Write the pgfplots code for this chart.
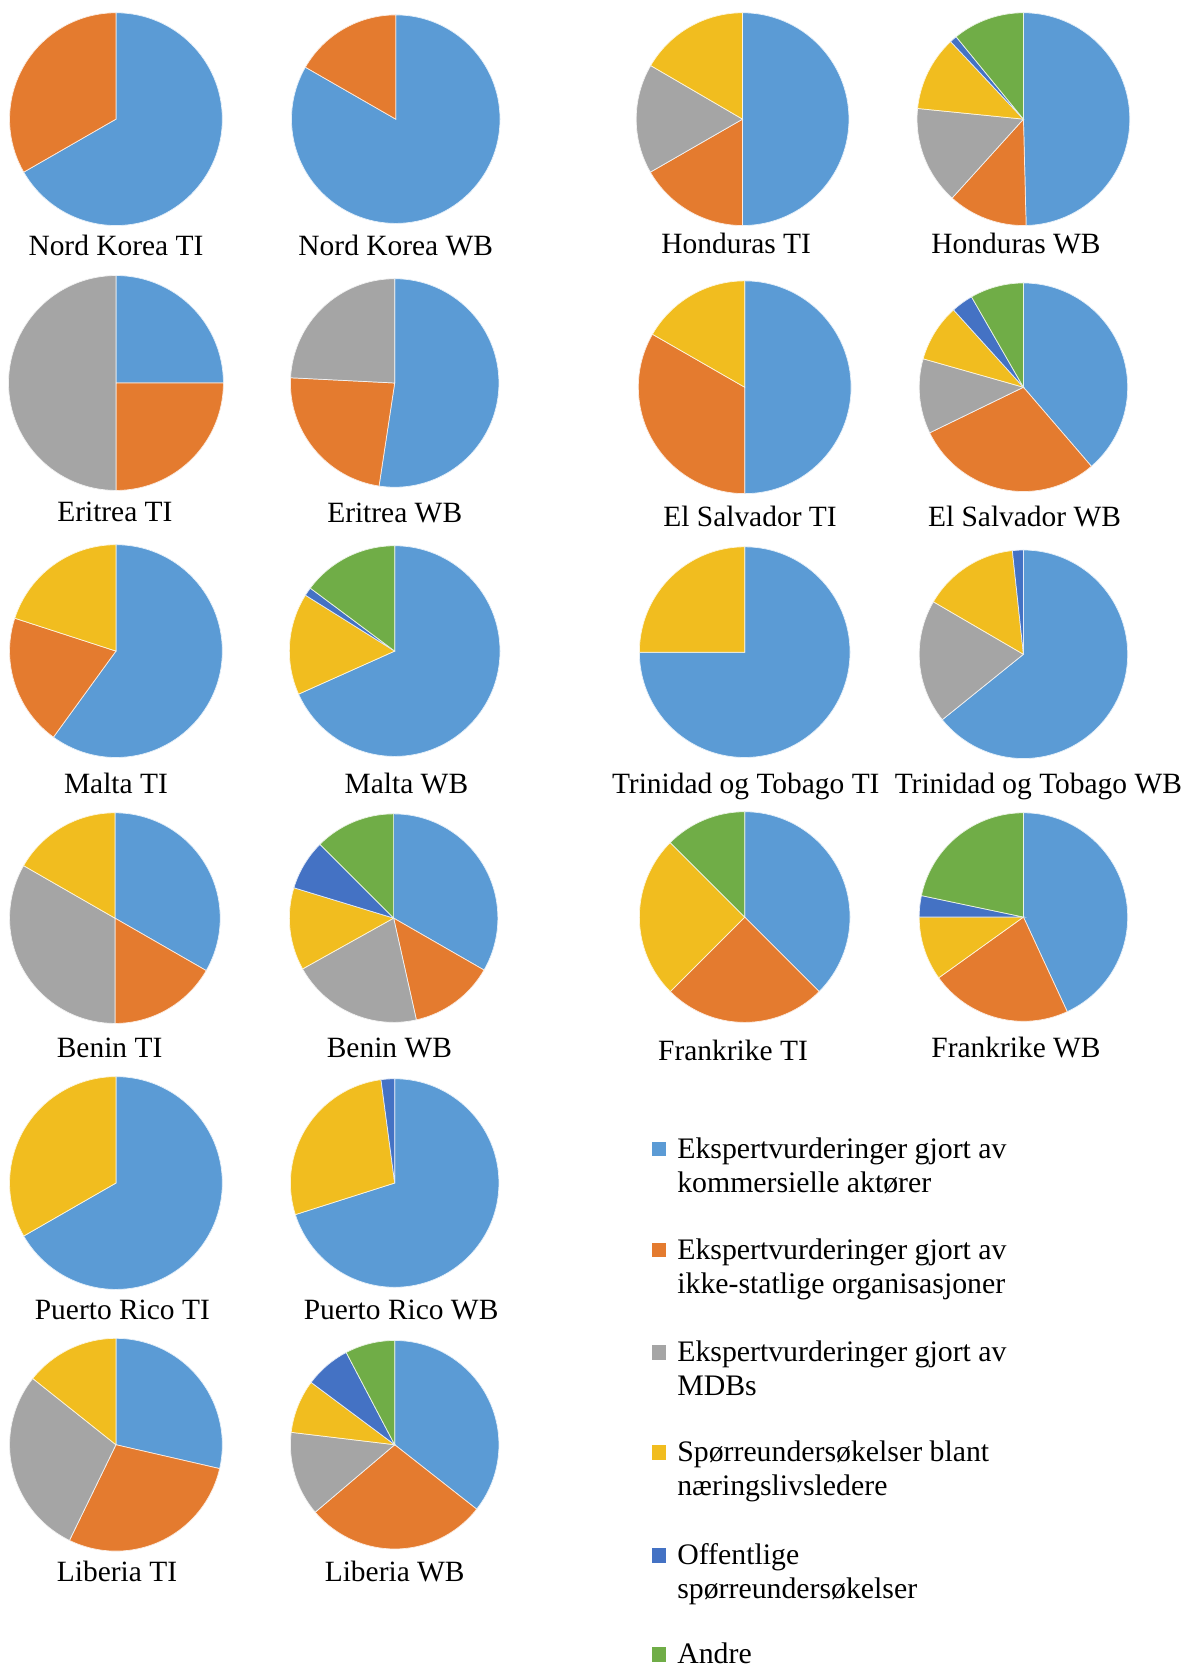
\documentclass[border=0pt]{standalone}
\usepackage{fontspec}
\setmainfont{Liberation Serif}
\usepackage{pgfplots}
\pgfplotsset{compat=1.18}

\definecolor{pie1}{HTML}{5B9BD5}
\definecolor{pie2}{HTML}{E47B2F}
\definecolor{pie3}{HTML}{A5A5A5}
\definecolor{pie4}{HTML}{F1BD1F}
\definecolor{pie5}{HTML}{4472C4}
\definecolor{pie6}{HTML}{70AD47}

% #1 cx, #2 cy, #3 radius (axis units), #4 shares in %
% order: komm. aktorer, NGO, MDBs, naeringsliv, offentlige, andre
\newcommand\pie[4]{%
  \gdef\piestart{90}%
  \foreach \v [count=\i] in {#4} {%
    \pgfmathsetmacro\pieend{\piestart-3.6*\v}%
    \ifdim \v pt>0pt
      \edef\temp{\noexpand\fill[pie\i, draw=white!85!pie\i, line width=0.2bp]
        (axis cs:#1,#2) -- ++(\piestart:#3*0.3bp)
        arc[start angle=\piestart, end angle=\pieend, radius=#3*0.3bp] -- cycle;}%
      \temp
    \fi
    \xdef\piestart{\pieend}%
  }%
}
\newcommand\lbl[3]{\node[anchor=base, inner sep=0pt, font=\fontsize{8.3bp}{9.8bp}\selectfont] at (axis cs:#1,#2) {#3};}
\newcommand\leg[4]{%
  \fill[#1] (axis cs:613,#2-7) rectangle (axis cs:626,#2+7);
  \node[anchor=base west, inner sep=0pt, font=\fontsize{8.4bp}{9.8bp}\selectfont] at (axis cs:636,#2+9) {#3};
  \node[anchor=base west, inner sep=0pt, font=\fontsize{8.4bp}{9.8bp}\selectfont] at (axis cs:636,#2+41) {#4};
}

\begin{document}
\begin{tikzpicture}
\begin{axis}[
  hide axis,
  scale only axis,
  x=0.3bp, y=0.3bp,
  xmin=0, xmax=1114,
  ymin=0, ymax=1566,
  y dir=reverse,
  clip=false,
]
\coordinate (tl) at (axis cs:0,0);
\coordinate (br) at (axis cs:1114,1566);

% left block
\pie{109}{112}{100}{66.7,33.3,0,0,0,0}
\pie{372}{112}{98}{83.3,16.7,0,0,0,0}
\pie{109}{360}{101}{25,25,50,0,0,0}
\pie{371}{360}{98}{52.4,23.4,24.2,0,0,0}
\pie{109}{612}{100}{60,20,0,20,0,0}
\pie{371}{612}{99}{68.3,0,0,15.6,1.3,14.8}
\pie{108}{863}{99}{33.3,16.7,33.3,16.7,0,0}
\pie{370}{863}{98}{33.3,13.2,20.4,12.8,7.8,12.5}
\pie{109}{1112}{100}{66.7,0,0,33.3,0,0}
\pie{371}{1112}{98}{70.1,0,0,27.8,2.1,0}
\pie{109}{1358}{100}{28.6,28.6,28.5,14.3,0,0}
\pie{371}{1358}{98}{35.6,28.2,13.1,8.3,7.1,7.7}

% right block
\pie{698}{112}{100}{50,16.7,16.7,16.6,0,0}
\pie{962}{112}{100}{49.6,12.1,14.9,11.4,1.1,10.9}
\pie{700}{364}{100}{50,33.3,0,16.7,0,0}
\pie{962}{364}{98}{38.7,29.1,11.6,8.9,3.4,8.3}
\pie{700}{613}{99}{75,0,0,25,0,0}
\pie{962}{615}{98}{64.2,0,19.2,14.9,1.7,0}
\pie{700}{862}{99}{37.5,25,0,25,0,12.5}
\pie{962}{862}{98}{43.1,22,0,9.9,3.3,21.7}

\lbl{109}{240}{Nord Korea TI}
\lbl{372}{240}{Nord Korea WB}
\lbl{692}{238}{Honduras TI}
\lbl{955}{238}{Honduras WB}
\lbl{108}{490}{Eritrea TI}
\lbl{371}{491}{Eritrea WB}
\lbl{705}{495}{El Salvador TI}
\lbl{963}{495}{El Salvador WB}
\lbl{109}{746}{Malta TI}
\lbl{382}{746}{Malta WB}
\lbl{701}{746}{Trinidad og Tobago TI}
\lbl{976}{746}{Trinidad og Tobago WB}
\lbl{103}{994}{Benin TI}
\lbl{366}{994}{Benin WB}
\lbl{689}{997}{Frankrike TI}
\lbl{955}{994}{Frankrike WB}
\lbl{115}{1240}{Puerto Rico TI}
\lbl{377}{1240}{Puerto Rico WB}
\lbl{110}{1487}{Liberia TI}
\lbl{371}{1487}{Liberia WB}

\leg{pie1}{1080}{Ekspertvurderinger gjort av}{kommersielle aktører}
\leg{pie2}{1175}{Ekspertvurderinger gjort av}{ikke-statlige organisasjoner}
\leg{pie3}{1271}{Ekspertvurderinger gjort av}{MDBs}
\leg{pie4}{1365}{Spørreundersøkelser blant}{næringslivsledere}
\leg{pie5}{1462}{Offentlige}{spørreundersøkelser}
\leg{pie6}{1555}{Andre}{}
\end{axis}
\pgfresetboundingbox
\path (tl) rectangle (br);
\end{tikzpicture}
\end{document}
